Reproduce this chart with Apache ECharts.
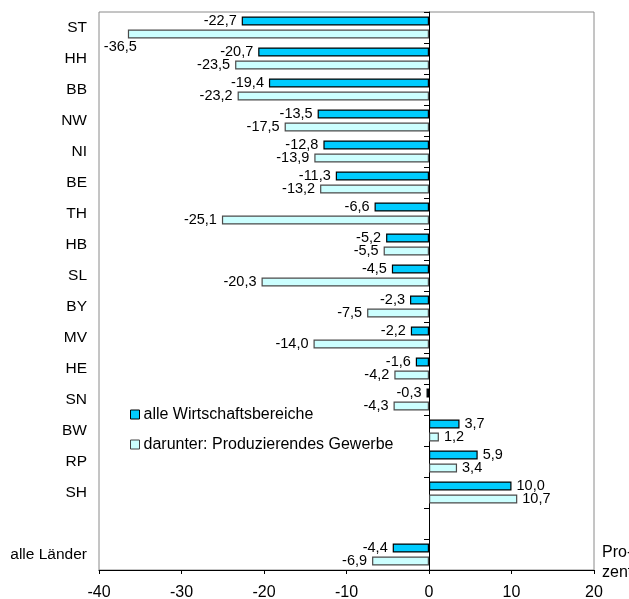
<!DOCTYPE html>
<html>
<head>
<meta charset="utf-8">
<script src="https://cdn.jsdelivr.net/npm/echarts@6/dist/echarts.min.js"></script>
<style>
  html, body { margin: 0; padding: 0; background: #fff; }
  #chart { width: 629px; height: 599px; }
</style>
</head>
<body>
<div id="chart"></div>
<script>
// Länder, top to bottom; the empty slot separates the total
const laender = ['ST', 'HH', 'BB', 'NW', 'NI', 'BE', 'TH', 'HB', 'SL', 'BY', 'MV', 'HE', 'SN', 'BW', 'RP', 'SH', '', 'alle Länder'];

// Veränderung in Prozent
const alleBereiche = [-22.7, -20.7, -19.4, -13.5, -12.8, -11.3, -6.6, -5.2, -4.5, -2.3, -2.2, -1.6, -0.3, 3.7, 5.9, 10.0, null, -4.4];
const produzierend = [-36.5, -23.5, -23.2, -17.5, -13.9, -13.2, -25.1, -5.5, -20.3, -7.5, -14.0, -4.2, -4.3, 1.2, 3.4, 10.7, null, -6.9];

const xTicks = { min: -40, max: 20, step: 10 };

const FONT = '"Liberation Sans", Arial, sans-serif';
const fmt = v => v.toFixed(1).replace('.', ',');

function items(values, special) {
  return values.map((v, i) => {
    if (v === null) return '-';
    const label = { position: v < 0 ? 'left' : 'right' };
    if (special && special[i]) Object.assign(label, special[i]);
    return { value: v, label };
  });
}

// the longest bar pushes its label underneath
const produzierendLabels = { 0: { offset: [14, 13] } };

const chart = echarts.init(document.getElementById('chart'), null, { renderer: 'canvas' });

chart.setOption({
  animation: false,
  backgroundColor: '#fff',
  textStyle: { fontFamily: FONT },
  grid: {
    left: 99, right: 35, top: 12, bottom: 29,
    outerBoundsMode: 'none',
    containLabel: false,
    show: true, borderColor: '#8a8a8a', borderWidth: 1, backgroundColor: 'transparent'
  },
  legend: {
    orient: 'vertical',
    left: 125, top: 401,
    itemWidth: 9, itemHeight: 9, itemGap: 13,
    icon: 'rect',
    textStyle: { fontFamily: FONT, fontSize: 16, color: '#000', lineHeight: 17, padding: [0, 0, 0, -1] },
    data: [
      { name: 'alle Wirtschaftsbereiche', itemStyle: { color: '#00ccff', borderColor: '#000', borderWidth: 1 } },
      { name: 'darunter: Produzierendes Gewerbe', itemStyle: { color: '#ccffff', borderColor: '#444', borderWidth: 1 } }
    ]
  },
  xAxis: {
    type: 'value',
    min: xTicks.min, max: xTicks.max, interval: xTicks.step,
    axisLine: { show: true, onZero: false, lineStyle: { color: '#000', width: 1 } },
    axisTick: { show: true, length: 4, lineStyle: { color: '#000' } },
    axisLabel: { fontFamily: FONT, fontSize: 16, color: '#000', margin: 15 },
    splitLine: { show: false }
  },
  yAxis: [
    {
      type: 'category',
      data: laender,
      inverse: true,
      position: 'left',
      axisLine: { show: false, onZero: false },
      axisTick: { show: false },
      axisLabel: { fontFamily: FONT, fontSize: 15.5, color: '#000', margin: 12 },
      splitLine: { show: false }
    },
    {
      // zero line with category separators
      type: 'category',
      data: laender,
      inverse: true,
      position: 'right',
      axisLine: { show: true, onZero: true, lineStyle: { color: '#000', width: 1 } },
      axisTick: { show: true, inside: true, length: 5, lineStyle: { color: '#000' } },
      axisLabel: { show: false },
      splitLine: { show: false }
    }
  ],
  series: [
    {
      name: 'alle Wirtschaftsbereiche',
      type: 'bar',
      yAxisIndex: 0,
      barWidth: 9,
      barGap: '45%',
      data: items(alleBereiche),
      itemStyle: { color: '#00ccff', borderColor: '#000', borderWidth: 1.2 },
      label: {
        show: true, distance: 5,
        fontFamily: FONT, fontSize: 14.5, color: '#000',
        formatter: p => fmt(p.value)
      }
    },
    {
      name: 'darunter: Produzierendes Gewerbe',
      type: 'bar',
      yAxisIndex: 0,
      barWidth: 9,
      data: items(produzierend, produzierendLabels),
      itemStyle: { color: '#ccffff', borderColor: '#4a4a4a', borderWidth: 1.2 },
      label: {
        show: true, distance: 5,
        fontFamily: FONT, fontSize: 14.5, color: '#000',
        formatter: p => fmt(p.value)
      }
    }
  ],
  graphic: [
    {
      type: 'text',
      left: 602, top: 543,
      style: { text: 'Pro-\nzent', fontFamily: FONT, fontSize: 16, lineHeight: 20, fill: '#000' }
    }
  ]
});
</script>
</body>
</html>
